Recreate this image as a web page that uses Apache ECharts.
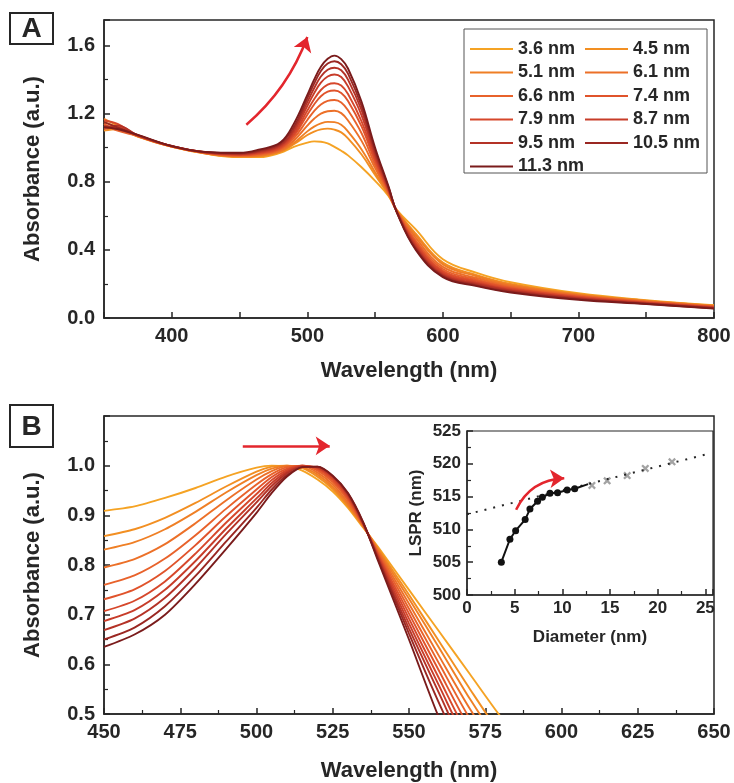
<!DOCTYPE html>
<html>
<head>
<meta charset="utf-8">
<script src="https://cdn.jsdelivr.net/npm/echarts@6/dist/echarts.min.js"></script>
<style>
  html, body { margin: 0; padding: 0; background: #fff; }
  #chart { width: 734px; height: 783px; }
</style>
</head>
<body>
<div id="chart"></div>
<script>
// particle sizes, one spectrum each
const sizes = ["3.6 nm", "4.5 nm", "5.1 nm", "6.1 nm", "6.6 nm", "7.4 nm",
  "7.9 nm", "8.7 nm", "9.5 nm", "10.5 nm", "11.3 nm"];
const colors = ["#f5a324", "#f28f22", "#ef7f25", "#ec7028", "#e8622b", "#e0532b",
  "#d6472b", "#c73c29", "#b43226", "#9a2722", "#7a1b1b"];

// panel A : raw absorbance
const wlA = [350, 360, 375, 400, 425, 450, 465, 480, 490, 500, 505, 510, 515, 520,
  525, 530, 540, 550, 560, 566, 580, 600, 625, 650, 700, 750, 800];
const absA = [
  [1.15, 1.12, 1.065, 1.005, 0.965, 0.945, 0.945, 0.97, 1.005, 1.03, 1.037, 1.035, 1.025, 1.005, 0.982, 0.955, 0.885, 0.805, 0.715, 0.635, 0.52, 0.345, 0.265, 0.21, 0.145, 0.105, 0.075],
  [1.10, 1.11, 1.066, 1.006, 0.966, 0.947, 0.95, 0.975, 1.02, 1.075, 1.095, 1.108, 1.112, 1.106, 1.09, 1.055, 0.96, 0.84, 0.72, 0.632, 0.495, 0.325, 0.252, 0.2, 0.14, 0.102, 0.073],
  [1.17, 1.13, 1.067, 1.006, 0.967, 0.949, 0.953, 0.978, 1.028, 1.096, 1.124, 1.143, 1.152, 1.15, 1.135, 1.095, 0.99, 0.856, 0.725, 0.63, 0.485, 0.315, 0.245, 0.195, 0.137, 0.1, 0.071],
  [1.12, 1.12, 1.068, 1.007, 0.968, 0.951, 0.957, 0.984, 1.041, 1.13, 1.17, 1.2, 1.214, 1.217, 1.203, 1.16, 1.04, 0.88, 0.73, 0.628, 0.47, 0.3, 0.235, 0.188, 0.133, 0.097, 0.069],
  [1.14, 1.10, 1.069, 1.007, 0.969, 0.954, 0.962, 0.99, 1.055, 1.163, 1.215, 1.254, 1.275, 1.28, 1.266, 1.22, 1.085, 0.9, 0.736, 0.627, 0.455, 0.288, 0.226, 0.181, 0.129, 0.095, 0.067],
  [1.11, 1.12, 1.07, 1.008, 0.97, 0.957, 0.966, 0.996, 1.068, 1.194, 1.254, 1.302, 1.329, 1.336, 1.322, 1.275, 1.125, 0.92, 0.742, 0.626, 0.443, 0.277, 0.218, 0.175, 0.125, 0.092, 0.065],
  [1.16, 1.14, 1.071, 1.008, 0.971, 0.959, 0.97, 1.002, 1.079, 1.218, 1.285, 1.339, 1.371, 1.379, 1.365, 1.315, 1.155, 0.935, 0.747, 0.625, 0.433, 0.268, 0.211, 0.17, 0.122, 0.09, 0.063],
  [1.13, 1.11, 1.072, 1.009, 0.972, 0.962, 0.974, 1.009, 1.093, 1.245, 1.32, 1.382, 1.418, 1.43, 1.415, 1.36, 1.19, 0.952, 0.752, 0.624, 0.423, 0.259, 0.204, 0.165, 0.118, 0.088, 0.061],
  [1.12, 1.13, 1.073, 1.009, 0.973, 0.964, 0.979, 1.016, 1.107, 1.268, 1.349, 1.418, 1.458, 1.47, 1.455, 1.40, 1.22, 0.968, 0.758, 0.623, 0.414, 0.252, 0.198, 0.16, 0.115, 0.086, 0.059],
  [1.15, 1.12, 1.074, 1.01, 0.974, 0.967, 0.984, 1.023, 1.122, 1.29, 1.376, 1.451, 1.494, 1.508, 1.49, 1.435, 1.245, 0.984, 0.764, 0.622, 0.406, 0.246, 0.192, 0.155, 0.111, 0.084, 0.057],
  [1.12, 1.11, 1.075, 1.01, 0.975, 0.97, 0.99, 1.03, 1.14, 1.31, 1.40, 1.475, 1.522, 1.541, 1.52, 1.465, 1.27, 1.0, 0.77, 0.62, 0.40, 0.24, 0.187, 0.15, 0.107, 0.082, 0.055],
];

// panel B : normalised absorbance
const wlB = [450, 460, 470, 480, 490, 500, 505, 510, 515, 520, 525, 530, 535, 540,
  550, 560, 570, 580, 590];
const absB = [
  [0.909, 0.918, 0.935, 0.955, 0.978, 0.996, 1.0, 0.998, 0.99, 0.972, 0.948, 0.915, 0.875, 0.835, 0.75, 0.665, 0.58, 0.495, 0.42],
  [0.858, 0.872, 0.895, 0.925, 0.958, 0.988, 0.998, 1.0, 0.995, 0.978, 0.953, 0.918, 0.877, 0.832, 0.74, 0.645, 0.55, 0.46, 0.39],
  [0.831, 0.846, 0.872, 0.907, 0.946, 0.981, 0.994, 1.0, 0.997, 0.982, 0.957, 0.921, 0.878, 0.829, 0.732, 0.632, 0.53, 0.44, 0.37],
  [0.795, 0.812, 0.842, 0.884, 0.93, 0.972, 0.989, 0.999, 0.999, 0.986, 0.962, 0.925, 0.879, 0.826, 0.722, 0.615, 0.51, 0.42, 0.35],
  [0.76, 0.779, 0.813, 0.86, 0.913, 0.962, 0.983, 0.997, 1.0, 0.99, 0.967, 0.93, 0.88, 0.823, 0.712, 0.6, 0.49, 0.4, 0.33],
  [0.731, 0.751, 0.788, 0.84, 0.898, 0.952, 0.977, 0.994, 1.0, 0.993, 0.971, 0.934, 0.881, 0.82, 0.702, 0.585, 0.47, 0.38, 0.31],
  [0.707, 0.728, 0.767, 0.823, 0.885, 0.943, 0.971, 0.991, 1.0, 0.995, 0.974, 0.937, 0.882, 0.818, 0.692, 0.57, 0.45, 0.36, 0.29],
  [0.687, 0.709, 0.75, 0.808, 0.873, 0.934, 0.965, 0.988, 0.999, 0.996, 0.977, 0.94, 0.883, 0.815, 0.682, 0.555, 0.43, 0.34, 0.27],
  [0.669, 0.692, 0.734, 0.794, 0.862, 0.926, 0.959, 0.985, 0.998, 0.997, 0.978, 0.942, 0.884, 0.812, 0.672, 0.54, 0.41, 0.32, 0.26],
  [0.65, 0.674, 0.717, 0.778, 0.847, 0.915, 0.952, 0.981, 0.997, 0.998, 0.979, 0.944, 0.885, 0.81, 0.662, 0.52, 0.39, 0.3, 0.24],
  [0.635, 0.66, 0.7, 0.762, 0.832, 0.905, 0.945, 0.978, 0.997, 0.998, 0.98, 0.945, 0.886, 0.806, 0.65, 0.49, 0.36, 0.28, 0.22],
];

// inset : LSPR vs diameter
const diameters = [3.6, 4.5, 5.1, 6.1, 6.6, 7.4, 7.9, 8.7, 9.5, 10.5, 11.3];
const lspr = [505, 508.5, 509.8, 511.5, 513.1, 514.3, 514.9, 515.5, 515.6, 516.0, 516.2];
const lsprLineEnd = [12.7, 516.9];
const bigDiameters = [13.1, 14.7, 16.8, 18.7, 21.5];
const bigLspr = [516.7, 517.4, 518.2, 519.3, 520.3];
const fitLine = [[0, 512.3], [25, 521.4]];

// red arrows, in data units of each panel
const arrowA = [[455, 1.135], [500, 1.65]];
const arrowB = [[495.5, 1.04], [524, 1.04]];
const arrowInset = [[5.15, 513], [10.2, 517.8]];

const FONT = '"Liberation Sans", Arial, Helvetica, sans-serif';
const INK = "#262626";
const RED = "#e3262d";

function axis(opt) {
  const { gridIndex, min, max, interval, minor, fontSize, margin, name, nameGap,
    nameSize, formatter, hideMax } = opt;
  return {
    type: "value",
    gridIndex,
    min,
    max,
    interval,
    name,
    nameGap,
    nameLocation: "middle",
    nameTextStyle: {
      fontFamily: FONT,
      fontWeight: "bold",
      fontSize: nameSize,
      color: INK,
    },
    axisLine: { show: true, onZero: false, lineStyle: { color: INK, width: 1.5 } },
    axisTick: { show: true, inside: true, length: 6, lineStyle: { color: INK, width: 1.5 } },
    minorTick: {
      show: !!minor,
      splitNumber: 2,
      length: 4,
      lineStyle: { color: INK, width: 1.2 },
    },
    splitLine: { show: false },
    axisLabel: {
      color: INK,
      fontFamily: FONT,
      fontWeight: "bold",
      fontSize,
      margin,
      showMaxLabel: !hideMax,
      formatter,
    },
  };
}

function spectra(wl, table, idx, smooth) {
  return table.map((row, i) => ({
    name: sizes[i],
    type: "line",
    xAxisIndex: idx,
    yAxisIndex: idx,
    smooth,
    showSymbol: false,
    symbol: "none",
    animation: false,
    color: colors[i],
    lineStyle: { width: 1.9, color: colors[i] },
    data: wl.map((w, k) => [w, row[k]]),
  }));
}

function arrow(coords, idx, curveness) {
  return {
    type: "lines",
    coordinateSystem: "cartesian2d",
    xAxisIndex: idx,
    yAxisIndex: idx,
    symbol: ["none", "arrow"],
    symbolSize: 14,
    silent: true,
    animation: false,
    z: 5,
    lineStyle: { color: RED, width: 2.5, opacity: 1, curveness },
    data: [{ coords }],
  };
}

const legendCommon = {
  orient: "vertical",
  top: 40,
  padding: 0,
  itemGap: 5.5,
  itemWidth: 43,
  itemHeight: 2,
  icon: "rect",
  textStyle: {
    color: INK,
    fontFamily: FONT,
    fontWeight: "bold",
    fontSize: 18,
    lineHeight: 18,
  },
};

function panelLetter(letter, x, y, w, h) {
  return {
    type: "group",
    children: [
      {
        type: "rect",
        shape: { x, y, width: w, height: h },
        style: { fill: "#fff", stroke: INK, lineWidth: 2 },
      },
      {
        type: "text",
        x: x + w / 2,
        y: y + h / 2 + 1,
        style: {
          text: letter,
          fill: INK,
          font: `bold 28px ${FONT}`,
          align: "center",
          verticalAlign: "middle",
        },
      },
    ],
  };
}

const chart = echarts.init(document.getElementById("chart"), null, { renderer: "canvas" });

chart.setOption({
  backgroundColor: "#fff",
  animation: false,
  grid: [
    { left: 104, top: 20, width: 610, height: 298, show: true, borderColor: INK, borderWidth: 1.5 },
    { left: 104, top: 416, width: 610, height: 298, show: true, borderColor: INK, borderWidth: 1.5 },
    { left: 467, top: 431, width: 246, height: 164, show: true, borderColor: INK, borderWidth: 1.2 },
  ],
  xAxis: [
    axis({
      gridIndex: 0, min: 350, max: 800, interval: 50, fontSize: 20, margin: 8,
      name: "Wavelength (nm)", nameGap: 42, nameSize: 22,
      formatter: (v) => (v % 100 === 0 ? String(v) : ""),
    }),
    axis({
      gridIndex: 1, min: 450, max: 650, interval: 25, minor: true, fontSize: 20, margin: 8,
      name: "Wavelength (nm)", nameGap: 46, nameSize: 22,
    }),
    axis({
      gridIndex: 2, min: 0, max: 25.8, interval: 5, minor: true, fontSize: 17, margin: 5,
      name: "Diameter (nm)", nameGap: 34, nameSize: 17, hideMax: true,
      formatter: (v) => (v % 5 === 0 ? String(v) : ""),
    }),
  ],
  yAxis: [
    axis({
      gridIndex: 0, min: 0, max: 1.75, interval: 0.4, minor: true, fontSize: 20, margin: 9,
      name: "Absorbance (a.u.)", nameGap: 60, nameSize: 22, hideMax: true,
      formatter: (v) => v.toFixed(1),
    }),
    axis({
      gridIndex: 1, min: 0.5, max: 1.1, interval: 0.1, minor: true, fontSize: 20, margin: 9,
      name: "Absorbance (a.u.)", nameGap: 60, nameSize: 22, hideMax: true,
      formatter: (v) => v.toFixed(1),
    }),
    axis({
      gridIndex: 2, min: 500, max: 525, interval: 5, minor: true, fontSize: 17, margin: 6,
      name: "LSPR (nm)", nameGap: 42, nameSize: 17,
    }),
  ],
  legend: [
    Object.assign({ left: 470, data: sizes.filter((s, i) => i % 2 === 0) }, legendCommon),
    Object.assign({ left: 585, data: sizes.filter((s, i) => i % 2 === 1) }, legendCommon),
  ],
  graphic: [
    {
      type: "rect",
      shape: { x: 464, y: 29, width: 243, height: 144 },
      style: { fill: "none", stroke: "#555", lineWidth: 1 },
      z: 1,
    },
    panelLetter("A", 10, 13, 43, 31),
    panelLetter("B", 10, 405, 43, 42),
  ],
  series: [
    ...spectra(wlA, absA, 0, 0.4),
    ...spectra(wlB, absB, 1, 0.25),
    arrow(arrowA, 0, -0.13),
    arrow(arrowB, 1, 0),
    {
      type: "line",
      xAxisIndex: 2,
      yAxisIndex: 2,
      symbol: "none",
      silent: true,
      lineStyle: { color: INK, width: 2, type: [2, 7] },
      data: fitLine,
    },
    {
      type: "scatter",
      xAxisIndex: 2,
      yAxisIndex: 2,
      symbol: "path://M2,0 L5,3 L8,0 L10,2 L7,5 L10,8 L8,10 L5,7 L2,10 L0,8 L3,5 L0,2 Z",
      symbolSize: 8,
      itemStyle: { color: "#8c8c8c" },
      data: bigDiameters.map((d, i) => [d, bigLspr[i]]),
    },
    {
      type: "line",
      xAxisIndex: 2,
      yAxisIndex: 2,
      symbol: "circle",
      symbolSize: 7,
      color: "#111",
      lineStyle: { color: "#111", width: 2 },
      itemStyle: { color: "#111" },
      data: diameters
        .map((d, i) => [d, lspr[i]])
        .concat([{ value: lsprLineEnd, symbol: "none" }]),
    },
    arrow(arrowInset, 2, 0.3),
  ],
});
</script>
</body>
</html>
